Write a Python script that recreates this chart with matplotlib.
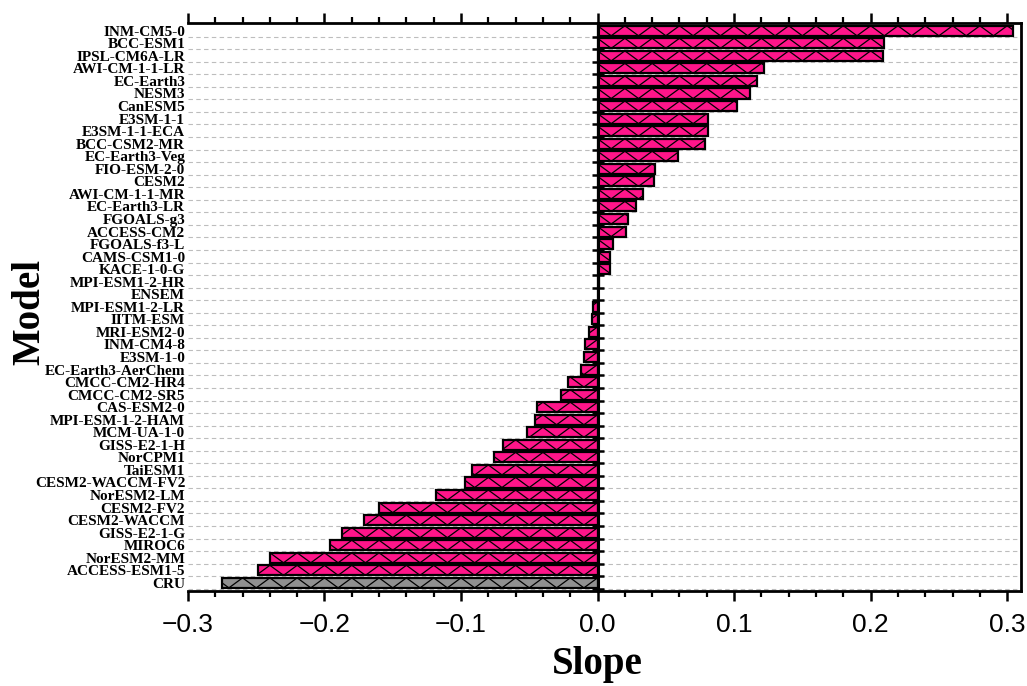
import numpy as np
import matplotlib
matplotlib.use("Agg")
import matplotlib.pyplot as plt
from matplotlib.ticker import MultipleLocator, FixedLocator, NullFormatter

# Trend slope of each model (CRU observation at the bottom)
models = [
    "INM-CM5-0", "BCC-ESM1", "IPSL-CM6A-LR", "AWI-CM-1-1-LR", "EC-Earth3",
    "NESM3", "CanESM5", "E3SM-1-1", "E3SM-1-1-ECA", "BCC-CSM2-MR",
    "EC-Earth3-Veg", "FIO-ESM-2-0", "CESM2", "AWI-CM-1-1-MR", "EC-Earth3-LR",
    "FGOALS-g3", "ACCESS-CM2", "FGOALS-f3-L", "CAMS-CSM1-0", "KACE-1-0-G",
    "MPI-ESM1-2-HR", "ENSEM", "MPI-ESM1-2-LR", "IITM-ESM", "MRI-ESM2-0",
    "INM-CM4-8", "E3SM-1-0", "EC-Earth3-AerChem", "CMCC-CM2-HR4", "CMCC-CM2-SR5",
    "CAS-ESM2-0", "MPI-ESM-1-2-HAM", "MCM-UA-1-0", "GISS-E2-1-H", "NorCPM1",
    "TaiESM1", "CESM2-WACCM-FV2", "NorESM2-LM", "CESM2-FV2", "CESM2-WACCM",
    "GISS-E2-1-G", "MIROC6", "NorESM2-MM", "ACCESS-ESM1-5", "CRU",
]
slopes = [
    0.304, 0.210, 0.209, 0.122, 0.117,
    0.112, 0.102, 0.081, 0.081, 0.079,
    0.059, 0.042, 0.041, 0.033, 0.028,
    0.022, 0.021, 0.011, 0.009, 0.009,
    0.001, 0.000, -0.003, -0.004, -0.006,
    -0.009, -0.010, -0.012, -0.022, -0.027,
    -0.044, -0.046, -0.052, -0.069, -0.076,
    -0.092, -0.097, -0.118, -0.160, -0.171,
    -0.187, -0.196, -0.240, -0.249, -0.275,
]

pink = "#FF158A"
grey = "#909090"
colors = [grey if m == "CRU" else pink for m in models]

serif = ["Liberation Serif", "DejaVu Serif"]
narrow = ["Liberation Sans Narrow", "Liberation Sans", "DejaVu Sans"]

fig = plt.figure(figsize=(10.27, 6.86), dpi=100)
ax = fig.add_axes([0.183, 0.139, 0.811, 0.8275])

y = np.arange(len(models))
h = 0.8

# filled bars, zigzag hatch clipped to each bar, then the outlines
bars = ax.barh(y, slopes, height=h, color=colors, edgecolor="none", zorder=3)
step = 0.01
for bar, s in zip(bars, slopes):
    n = int(np.ceil(abs(s) / step)) + 2
    k = np.arange(n)
    xs = np.sign(s) * k * step
    yb = bar.get_y()
    ys = np.where(k % 2 == 0, yb, yb + h)
    line, = ax.plot(xs, ys, color="black", lw=0.9, zorder=4)
    line.set_clip_path(bar)
ax.barh(y, slopes, height=h, fill=False, edgecolor="black", linewidth=1.6, zorder=5)

ax.set_xlim(-0.3, 0.31)
ax.set_ylim(len(models) - 0.38, -0.62)

# x axis: ticks outward on bottom and top
ax.xaxis.set_major_locator(MultipleLocator(0.1))
ax.xaxis.set_minor_locator(MultipleLocator(0.02))
ax.tick_params(axis="x", which="major", direction="out", length=7, width=1.8,
               top=True, labeltop=False, pad=9)
ax.tick_params(axis="x", which="minor", direction="out", length=4, width=1.6,
               top=True)
for lab in ax.get_xticklabels():
    lab.set_family(narrow)
    lab.set_fontsize(19)

# y axis: labels on the left, dashed grid between rows
ax.set_yticks(y)
ax.set_yticklabels(models, family=serif, fontweight="bold", fontsize=11)
ax.yaxis.set_minor_locator(FixedLocator(y + 0.47))
ax.tick_params(axis="y", which="both", length=0, pad=2)
ax.grid(axis="y", which="minor", color="#BDBDBD", linestyle=(0, (4, 3)), lw=0.8, zorder=0)

for side in ["top", "bottom", "right"]:
    ax.spines[side].set_linewidth(2)
ax.spines["left"].set_visible(False)

# vertical zero axis with its own tick marks
zax = ax.secondary_yaxis(0, transform=ax.transData)
zax.set_yticks(y + 0.47)
zax.yaxis.set_major_formatter(NullFormatter())
zax.yaxis.set_minor_locator(FixedLocator([]))
zax.tick_params(axis="y", direction="inout", length=8, width=1.8)
zax.spines["left"].set_linewidth(2.2)
zax.set_zorder(6)

ax.set_xlabel("Slope", family=serif, fontweight="bold", fontsize=28,
              va="center")
ax.xaxis.set_label_coords(0.491, -0.13)
ax.set_ylabel("Model", family=serif, fontweight="bold", fontsize=28,
              va="center")
ax.yaxis.set_label_coords(-0.19, 0.49)

fig.savefig("out.png", dpi=100)
